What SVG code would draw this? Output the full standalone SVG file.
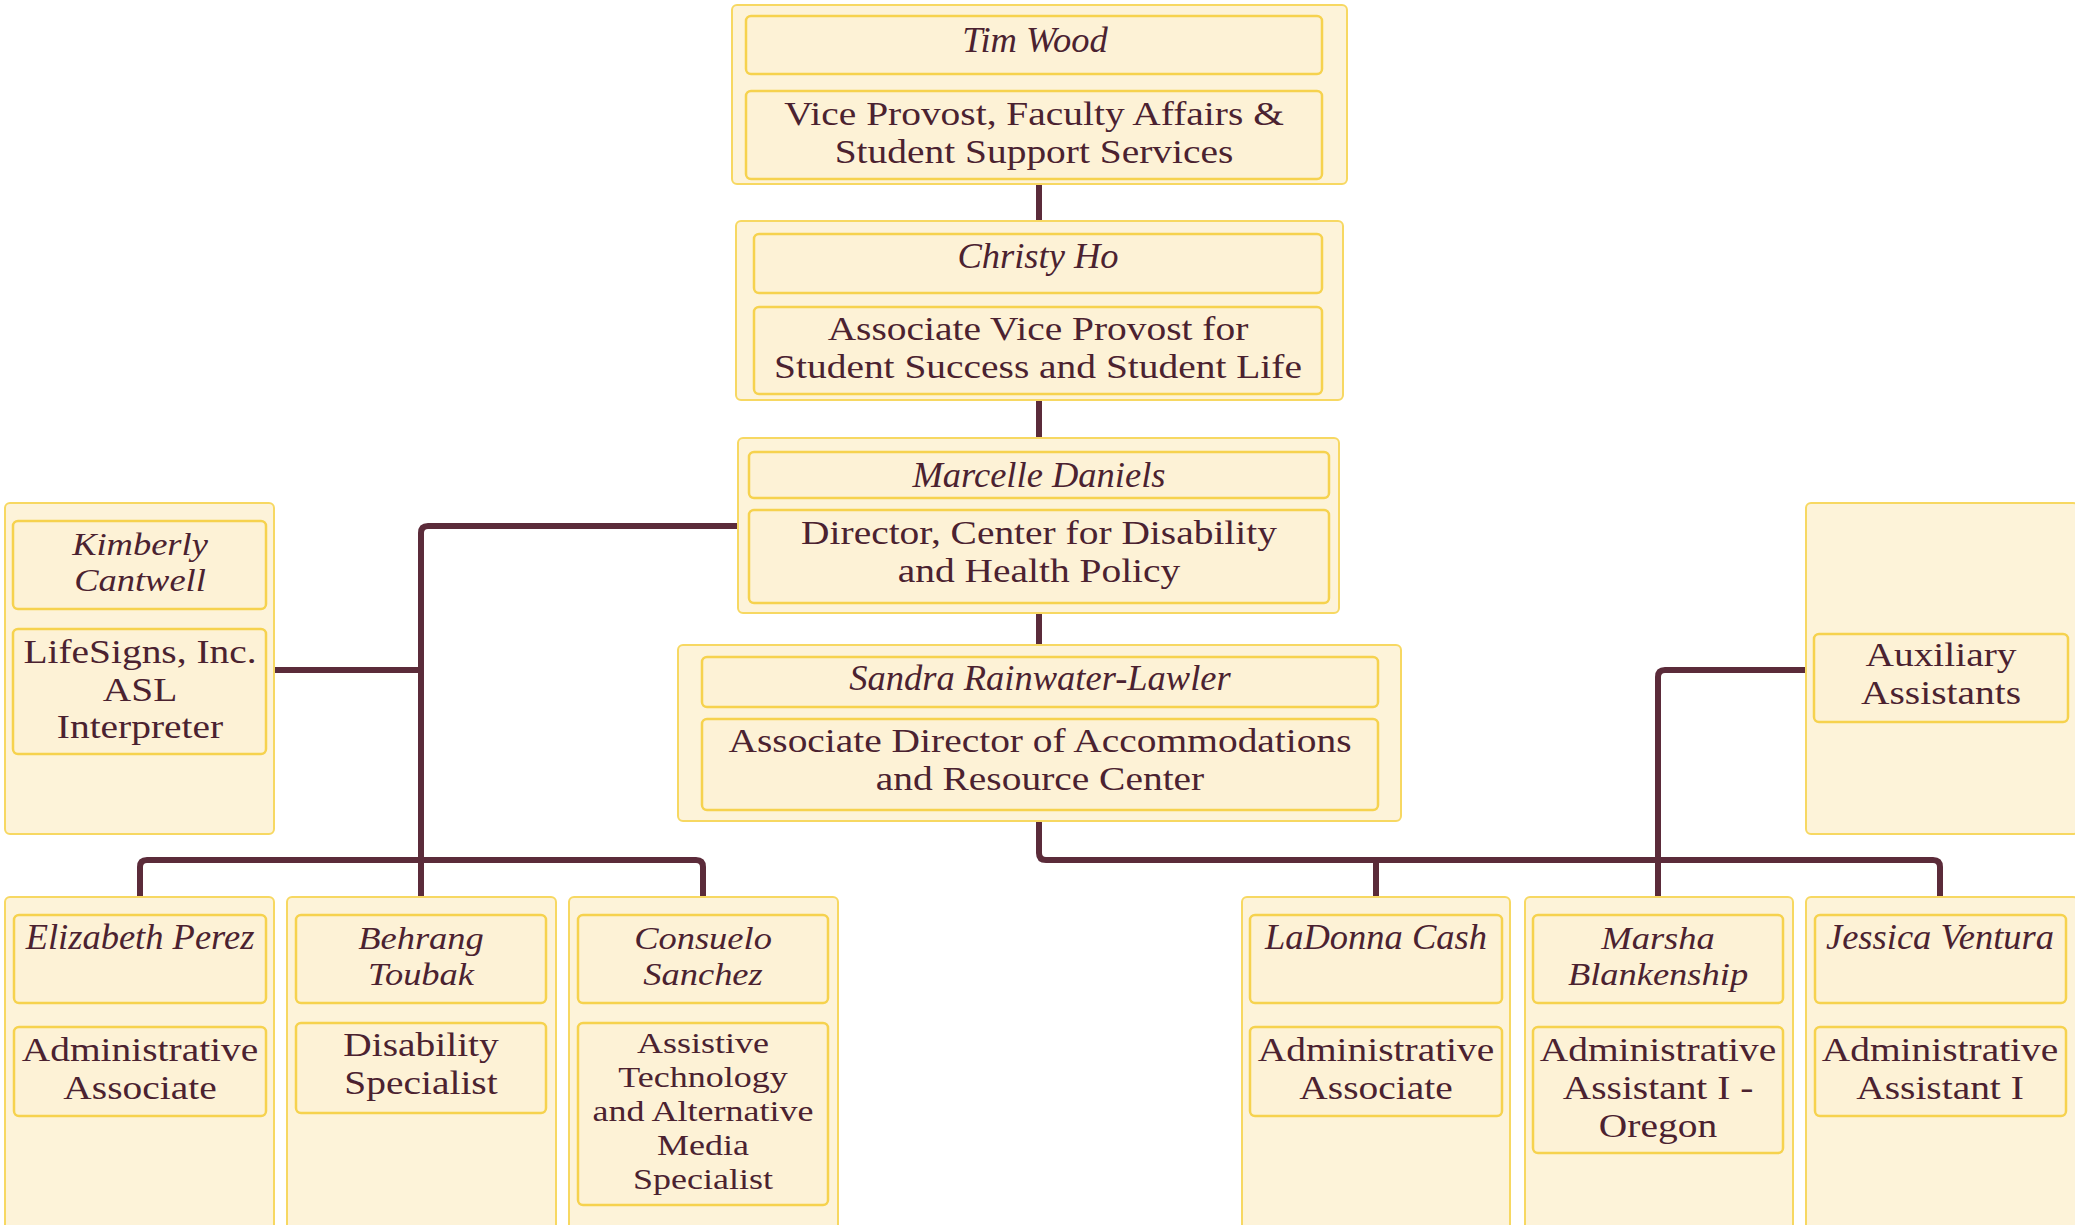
<svg xmlns="http://www.w3.org/2000/svg" width="2075" height="1225" viewBox="0 0 2075 1225">
<style>
.outer{fill:#fdf3d9;stroke:#f7d862;stroke-width:2}
.inner{fill:#fdf2d6;stroke:#f6d24e;stroke-width:2.5}
.conn{fill:none;stroke:#5b2b3a;stroke-width:6;stroke-linejoin:round}
text{font-family:"Liberation Serif","Times New Roman",serif;fill:#4b2230;text-anchor:middle}
.nm{font-style:italic;font-size:36.5px}
.nm2{font-style:italic;font-size:32px}
.tt{font-size:34px}
.sm{font-size:30.5px}
</style>
<rect width="2075" height="1225" fill="#ffffff"/>
<g id="connectors">
<path class="conn" d="M1039 184V222"/>
<path class="conn" d="M1039 400V439"/>
<path class="conn" d="M1039 613V646"/>
<path class="conn" d="M739 526H428Q421 526 421 533V898"/>
<path class="conn" d="M274 670H421"/>
<path class="conn" d="M140 898V867Q140 860 147 860H696Q703 860 703 867V898"/>
<path class="conn" d="M1039 821V853Q1039 860 1046 860H1933Q1940 860 1940 867V898"/>
<path class="conn" d="M1376 860V898"/>
<path class="conn" d="M1658 898V677Q1658 670 1665 670H1807"/>
</g>
<g id="tim-wood">
<rect class="outer" x="732" y="5" width="615" height="179" rx="5"/>
<rect class="inner" x="746" y="16" width="576" height="58" rx="5"/>
<rect class="inner" x="746" y="91" width="576" height="88" rx="5"/>
<text class="nm" x="1035" y="52">Tim Wood</text>
<text class="tt" transform="translate(1034 0) scale(1.16 1)" x="0" y="125">Vice Provost, Faculty Affairs &amp;<tspan x="0" dy="38">Student Support Services</tspan></text>
</g>
<g id="christy-ho">
<rect class="outer" x="736" y="221" width="607" height="179" rx="5"/>
<rect class="inner" x="754" y="234" width="568" height="59" rx="5"/>
<rect class="inner" x="754" y="307" width="568" height="87" rx="5"/>
<text class="nm" x="1038" y="268">Christy Ho</text>
<text class="tt" transform="translate(1038 0) scale(1.16 1)" x="0" y="340">Associate Vice Provost for<tspan x="0" dy="38">Student Success and Student Life</tspan></text>
</g>
<g id="marcelle-daniels">
<rect class="outer" x="738" y="438" width="601" height="175" rx="5"/>
<rect class="inner" x="749" y="452" width="580" height="46" rx="5"/>
<rect class="inner" x="749" y="510" width="580" height="93" rx="5"/>
<text class="nm" x="1039" y="487">Marcelle Daniels</text>
<text class="tt" transform="translate(1039 0) scale(1.16 1)" x="0" y="544">Director, Center for Disability<tspan x="0" dy="38">and Health Policy</tspan></text>
</g>
<g id="sandra-rainwater-lawler">
<rect class="outer" x="678" y="645" width="723" height="176" rx="5"/>
<rect class="inner" x="702" y="657" width="676" height="50" rx="5"/>
<rect class="inner" x="702" y="719" width="676" height="91" rx="5"/>
<text class="nm" x="1040" y="690">Sandra Rainwater-Lawler</text>
<text class="tt" transform="translate(1040 0) scale(1.16 1)" x="0" y="752">Associate Director of Accommodations<tspan x="0" dy="38">and Resource Center</tspan></text>
</g>
<g id="kimberly-cantwell">
<rect class="outer" x="5" y="503" width="269" height="331" rx="5"/>
<rect class="inner" x="13" y="521" width="253" height="88" rx="5"/>
<rect class="inner" x="13" y="629" width="253" height="125" rx="5"/>
<text class="nm2" transform="translate(140 0) scale(1.14 1)" x="0" y="555">Kimberly<tspan x="0" dy="36">Cantwell</tspan></text>
<text class="tt" transform="translate(140 0) scale(1.16 1)" x="0" y="663">LifeSigns, Inc.<tspan x="0" dy="37.7">ASL</tspan><tspan x="0" dy="37.7">Interpreter</tspan></text>
</g>
<g id="auxiliary-assistants">
<rect class="outer" x="1806" y="503" width="272" height="331" rx="5"/>
<rect class="inner" x="1814" y="634" width="254" height="88" rx="5"/>
<text class="tt" transform="translate(1941 0) scale(1.16 1)" x="0" y="666">Auxiliary<tspan x="0" dy="38">Assistants</tspan></text>
</g>
<g id="elizabeth-perez">
<rect class="outer" x="5" y="897" width="269" height="345" rx="5"/>
<rect class="inner" x="14" y="915" width="252" height="88" rx="5"/>
<rect class="inner" x="14" y="1027" width="252" height="89" rx="5"/>
<text class="nm" x="140" y="949">Elizabeth Perez</text>
<text class="tt" transform="translate(140 0) scale(1.16 1)" x="0" y="1061">Administrative<tspan x="0" dy="38">Associate</tspan></text>
</g>
<g id="behrang-toubak">
<rect class="outer" x="287" y="897" width="269" height="345" rx="5"/>
<rect class="inner" x="296" y="915" width="250" height="88" rx="5"/>
<rect class="inner" x="296" y="1023" width="250" height="90" rx="5"/>
<text class="nm2" transform="translate(421 0) scale(1.14 1)" x="0" y="949">Behrang<tspan x="0" dy="36">Toubak</tspan></text>
<text class="tt" transform="translate(421 0) scale(1.16 1)" x="0" y="1056">Disability<tspan x="0" dy="38">Specialist</tspan></text>
</g>
<g id="consuelo-sanchez">
<rect class="outer" x="569" y="897" width="269" height="345" rx="5"/>
<rect class="inner" x="578" y="915" width="250" height="88" rx="5"/>
<rect class="inner" x="578" y="1023" width="250" height="182" rx="5"/>
<text class="nm2" transform="translate(703 0) scale(1.14 1)" x="0" y="949">Consuelo<tspan x="0" dy="36">Sanchez</tspan></text>
<text class="sm" transform="translate(703 0) scale(1.18 1)" x="0" y="1053">Assistive<tspan x="0" dy="34">Technology</tspan><tspan x="0" dy="34">and Alternative</tspan><tspan x="0" dy="34">Media</tspan><tspan x="0" dy="34">Specialist</tspan></text>
</g>
<g id="ladonna-cash">
<rect class="outer" x="1242" y="897" width="268" height="345" rx="5"/>
<rect class="inner" x="1250" y="915" width="252" height="88" rx="5"/>
<rect class="inner" x="1250" y="1027" width="252" height="89" rx="5"/>
<text class="nm" x="1376" y="949">LaDonna Cash</text>
<text class="tt" transform="translate(1376 0) scale(1.16 1)" x="0" y="1061">Administrative<tspan x="0" dy="38">Associate</tspan></text>
</g>
<g id="marsha-blankenship">
<rect class="outer" x="1525" y="897" width="268" height="345" rx="5"/>
<rect class="inner" x="1533" y="915" width="250" height="88" rx="5"/>
<rect class="inner" x="1533" y="1027" width="250" height="126" rx="5"/>
<text class="nm2" transform="translate(1658 0) scale(1.14 1)" x="0" y="949">Marsha<tspan x="0" dy="36">Blankenship</tspan></text>
<text class="tt" transform="translate(1658 0) scale(1.16 1)" x="0" y="1061">Administrative<tspan x="0" dy="38">Assistant I -</tspan><tspan x="0" dy="38">Oregon</tspan></text>
</g>
<g id="jessica-ventura">
<rect class="outer" x="1806" y="897" width="272" height="345" rx="5"/>
<rect class="inner" x="1815" y="915" width="251" height="88" rx="5"/>
<rect class="inner" x="1815" y="1027" width="251" height="89" rx="5"/>
<text class="nm" x="1940" y="949">Jessica Ventura</text>
<text class="tt" transform="translate(1940 0) scale(1.16 1)" x="0" y="1061">Administrative<tspan x="0" dy="38">Assistant I</tspan></text>
</g>
</svg>
